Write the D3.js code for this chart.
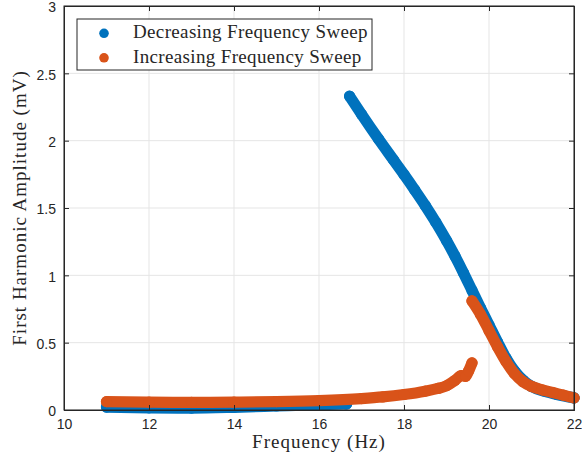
<!DOCTYPE html>
<html>
<head>
<meta charset="utf-8">
<script src="https://cdn.jsdelivr.net/npm/d3@7"></script>
<style>
  body { margin: 0; background: #fff; }
  svg { display: block; }
</style>
</head>
<body>
<div id="chart"></div>
<script>
// values
const xTicks = [10, 12, 14, 16, 18, 20, 22];
const yTicks = [0, 0.5, 1, 1.5, 2, 2.5, 3];

// decreasing sweep, upper branch (22 Hz -> 16.7 Hz)
const decHighFreq = [22, 21.6, 21.3, 21, 20.8, 20.6, 20.4, 20.2, 20, 19.8, 19.6, 19.4, 19.2, 19, 18.75, 18.5, 18.25, 18, 17.75, 17.4, 17, 16.72];
const decHighAmp  = [0.09, 0.115, 0.14, 0.175, 0.222, 0.29, 0.385, 0.505, 0.632, 0.758, 0.888, 1.018, 1.142, 1.258, 1.393, 1.518, 1.635, 1.748, 1.858, 2.012, 2.196, 2.33];
// decreasing sweep, lower branch after the jump (16.7 Hz -> 11 Hz)
const decLowFreq = [16.65, 16, 15, 14, 13, 12, 11];
const decLowAmp  = [0.045, 0.04, 0.03, 0.02, 0.014, 0.016, 0.022];

// increasing sweep, lower branch (11 Hz -> 19.6 Hz)
const incLowFreq = [11, 12, 13, 14, 15, 16, 17, 17.5, 18, 18.5, 18.8, 19, 19.2, 19.35, 19.45, 19.52, 19.6];
const incLowAmp  = [0.062, 0.058, 0.057, 0.058, 0.062, 0.07, 0.085, 0.097, 0.115, 0.14, 0.16, 0.18, 0.22, 0.255, 0.25, 0.29, 0.35];
// increasing sweep, upper branch after the jump (19.6 Hz -> 22 Hz)
const incHighFreq = [19.6, 19.8, 20, 20.2, 20.4, 20.6, 20.8, 21, 21.25, 21.5, 21.75, 22];
const incHighAmp  = [0.81, 0.71, 0.59, 0.47, 0.36, 0.27, 0.21, 0.175, 0.15, 0.13, 0.11, 0.09];

const seriesNames = ['Decreasing Frequency Sweep', 'Increasing Frequency Sweep'];
const seriesColors = ['#0072BD', '#D95319'];

const width = 582, height = 460;
const margin = { top: 6, right: 8, bottom: 50, left: 64 };

const svg = d3.select('#chart')
  .append('svg')
  .attr('width', width)
  .attr('height', height);

const x = d3.scaleLinear().domain([10, 22]).range([margin.left, width - margin.right]);
const y = d3.scaleLinear().domain([0, 3]).range([height - margin.bottom, margin.top]);

// grid
const grid = svg.append('g');
grid.selectAll('.gx').data(xTicks).enter().append('line')
  .attr('x1', d => x(d)).attr('x2', d => x(d))
  .attr('y1', y(0)).attr('y2', y(3))
  .attr('stroke', '#e5e5e5').attr('stroke-width', 1);
grid.selectAll('.gy').data(yTicks).enter().append('line')
  .attr('x1', x(10)).attr('x2', x(22))
  .attr('y1', d => y(d)).attr('y2', d => y(d))
  .attr('stroke', '#e5e5e5').attr('stroke-width', 1);

// data: dense markers, drawn as marker dots joined by a stroke of the same width
const r = 5.6;
const branches = [
  { f: decHighFreq, a: decHighAmp, c: 0 },
  { f: decLowFreq, a: decLowAmp, c: 0 },
  { f: incLowFreq, a: incLowAmp, c: 1 },
  { f: incHighFreq, a: incHighAmp, c: 1 }
];
const line = d3.line().x(d => x(d[0])).y(d => y(d[1])).curve(d3.curveMonotoneX);

branches.forEach(b => {
  const pts = b.f.map((f, i) => [f, b.a[i]]).sort((p, q) => p[0] - q[0]);
  const g = svg.append('g');
  g.append('path')
    .attr('d', line(pts))
    .attr('fill', 'none')
    .attr('stroke', seriesColors[b.c])
    .attr('stroke-width', r * 2)
    .attr('stroke-linecap', 'round')
    .attr('stroke-linejoin', 'round');
  g.selectAll('circle').data(pts).enter().append('circle')
    .attr('cx', d => x(d[0]))
    .attr('cy', d => y(d[1]))
    .attr('r', r)
    .attr('fill', seriesColors[b.c]);
});

// axes box
const axisColor = '#262626';
svg.append('rect')
  .attr('x', x(10)).attr('y', y(3))
  .attr('width', x(22) - x(10)).attr('height', y(0) - y(3))
  .attr('fill', 'none').attr('stroke', axisColor).attr('stroke-width', 1);

const xAxis = d3.axisBottom(x).tickValues(xTicks).tickSize(-5).tickPadding(9).tickFormat(d3.format('d'));
const yAxis = d3.axisLeft(y).tickValues(yTicks).tickSize(-5).tickPadding(8).tickFormat(d => d);

const gx = svg.append('g').attr('transform', `translate(0,${y(0)})`).call(xAxis);
const gy = svg.append('g').attr('transform', `translate(${x(10)},0)`).call(yAxis);
svg.append('g').attr('transform', `translate(0,${y(3)})`)
  .call(d3.axisTop(x).tickValues(xTicks).tickSize(-5).tickFormat(''));
svg.append('g').attr('transform', `translate(${x(22)},0)`)
  .call(d3.axisRight(y).tickValues(yTicks).tickSize(-5).tickFormat(''));

svg.selectAll('.domain').attr('stroke', axisColor);
svg.selectAll('.tick line').attr('stroke', axisColor);
[gx, gy].forEach(g => g.selectAll('text')
  .attr('fill', axisColor)
  .style('font-family', 'Liberation Sans, Arial, sans-serif')
  .style('font-size', '14px'));
gy.selectAll('text').attr('dy', '0.42em');

// axis labels
const serif = 'Liberation Serif, DejaVu Serif, serif';
svg.append('text')
  .attr('x', (x(10) + x(22)) / 2)
  .attr('y', 448)
  .attr('text-anchor', 'middle')
  .style('font-family', serif)
  .style('font-size', '19px')
  .style('letter-spacing', '1px')
  .attr('fill', axisColor)
  .text('Frequency (Hz)');

svg.append('text')
  .attr('transform', `translate(26,${(y(0) + y(3)) / 2}) rotate(-90)`)
  .attr('text-anchor', 'middle')
  .style('font-family', serif)
  .style('font-size', '19px')
  .style('letter-spacing', '1px')
  .attr('fill', axisColor)
  .text('First Harmonic Amplitude (mV)');

// legend
const legend = svg.append('g').attr('transform', 'translate(77,19)');
legend.append('rect')
  .attr('width', 295).attr('height', 51)
  .attr('fill', '#fff').attr('stroke', axisColor).attr('stroke-width', 1);
seriesNames.forEach((name, i) => {
  const row = legend.append('g').attr('transform', `translate(0,${14.3 + i * 24.5})`);
  row.append('circle').attr('cx', 27).attr('cy', 0).attr('r', 4.8).attr('fill', seriesColors[i]);
  row.append('text')
    .attr('x', 56).attr('y', 4.8)
    .style('font-family', serif)
    .style('font-size', '19px')
    .style('letter-spacing', '0.35px')
    .attr('fill', axisColor)
    .text(name);
});
</script>
</body>
</html>
